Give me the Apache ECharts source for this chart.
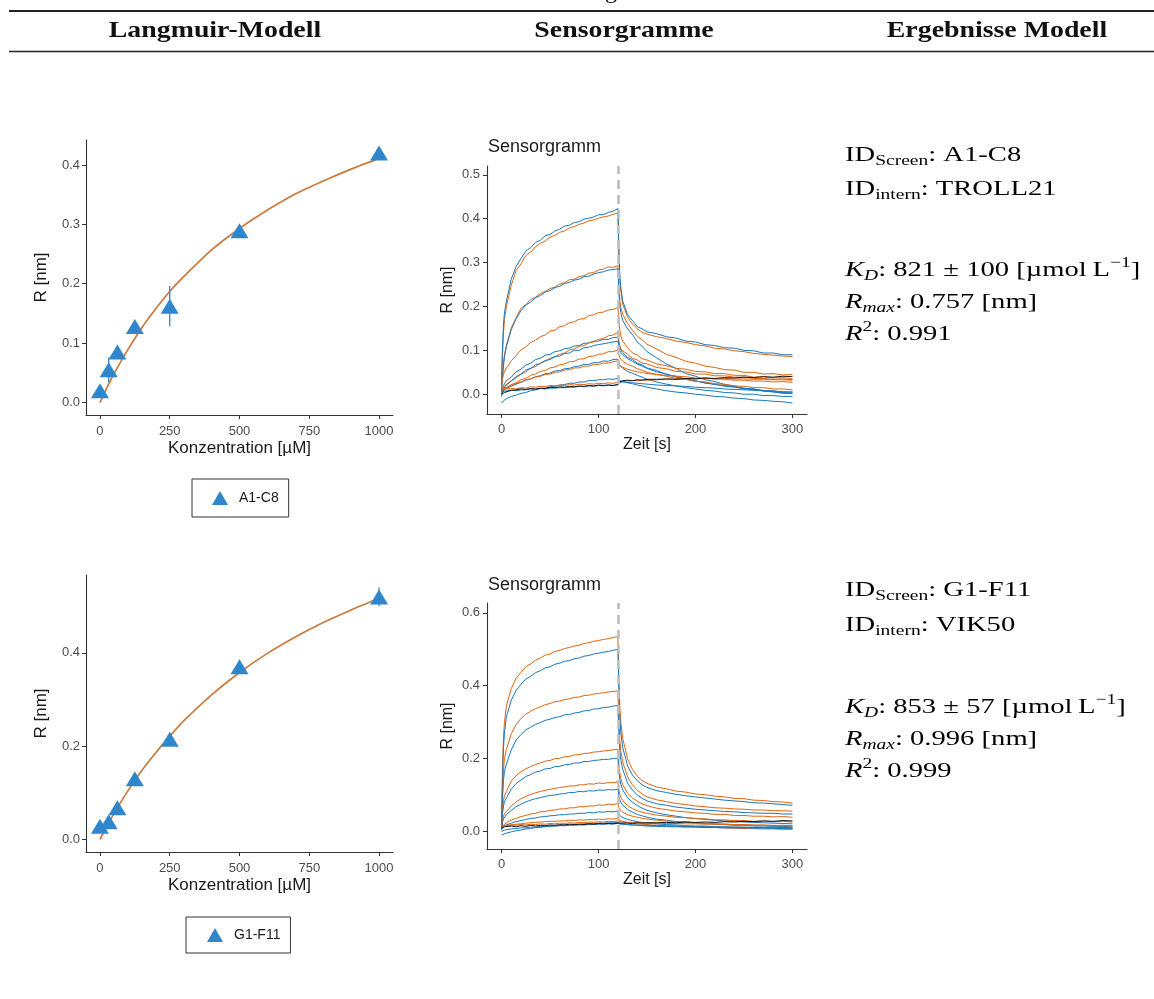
<!DOCTYPE html>
<html><head><meta charset="utf-8">
<script src="https://cdn.jsdelivr.net/npm/echarts@6/dist/echarts.min.js"></script>
<style>html,body{margin:0;padding:0;background:#fff}#c{width:1154px;height:999px}</style>
</head><body><div id="c"></div>
<script>
// ---------------- DATA ----------------
const concentrations = [0, 31.25, 62.5, 125, 250, 500, 1000];
const respA1C8 = [0.02, 0.055, 0.085, 0.128, 0.162, 0.289, 0.42];
const errA1C8  = [0.004, 0.021, 0.010, 0.006, 0.034, 0.005, 0.005];
const respG1F11 = [0.028, 0.038, 0.068, 0.13, 0.215, 0.37, 0.52];
const errG1F11  = [0.004, 0.006, 0.006, 0.006, 0.010, 0.010, 0.020];
const fitConc  = [0, 25, 50, 100, 150, 200, 250, 300, 400, 500, 600, 700, 800, 900, 1000];
const fitA1C8  = [0, 0.025, 0.048, 0.089, 0.126, 0.158, 0.187, 0.212, 0.257, 0.293, 0.324, 0.351, 0.373, 0.393, 0.411];
const fitG1F11 = [0, 0.028, 0.055, 0.104, 0.148, 0.186, 0.221, 0.254, 0.310, 0.358, 0.399, 0.434, 0.465, 0.492, 0.517];
const concTicks = [0, 250, 500, 750, 1000];
const langTicksTop = [0, 0.1, 0.2, 0.3, 0.4];
const langTicksBot = [0, 0.2, 0.4];
const timeTicks = [0, 100, 200, 300];
const sensTicksTop = [0, 0.1, 0.2, 0.3, 0.4, 0.5];
const sensTicksBot = [0, 0.2, 0.4, 0.6];
const dissociationStart = 120;

const sensTime = [0,1,2,3,5,10,15,20,25,30,35,40,45,50,55,60,65,70,75,80,85,90,95,100,105,110,115,120,121,122,123,125,130,135,140,145,150,160,170,180,190,200,210,220,230,240,250,260,270,280,290,300];

// top sensorgram (A1-C8)
const top_b1000 = [0.03,0.11,0.16,0.185, 0.212,0.262,0.291,0.309,0.326,0.334,0.346,0.351,0.361,0.364,0.372,0.376,0.383,0.385,0.391,0.393,0.399,0.401,0.404,0.409,0.409,0.414,0.417,0.423, 0.33,0.27,0.243, 0.212,0.181,0.168,0.154,0.149,0.142, 0.138,0.131,0.128,0.121,0.119,0.113,0.111,0.106,0.105,0.1,0.099,0.094,0.094,0.09,0.09];
const top_o1000 = [0.02,0.09,0.14,0.17, 0.2,0.248,0.282,0.297,0.316,0.324,0.336,0.344,0.349,0.358,0.362,0.369,0.372,0.379,0.382,0.387,0.39,0.395,0.397,0.401,0.404,0.406,0.41,0.413, 0.32,0.26,0.235, 0.205,0.176,0.16,0.149,0.141,0.137, 0.131,0.127,0.121,0.118,0.113,0.11,0.105,0.103,0.099,0.097,0.093,0.091,0.089,0.087,0.086];
const top_o500 = [0.01,0.045,0.07,0.09, 0.112,0.151,0.174,0.196,0.204,0.216,0.221,0.229,0.234,0.241,0.244,0.251,0.254,0.261,0.262,0.268,0.27,0.276,0.277,0.283,0.285,0.29,0.289,0.293, 0.245,0.215,0.198, 0.182,0.161,0.146,0.132,0.124,0.114, 0.103,0.091,0.084,0.075,0.071,0.064,0.061,0.056,0.055,0.05,0.05,0.046,0.047,0.044,0.045];
const top_b500 = [0.005,0.04,0.065,0.085, 0.108,0.147,0.172,0.19,0.203,0.21,0.22,0.225,0.233,0.236,0.243,0.246,0.252,0.255,0.26,0.262,0.268,0.269,0.274,0.277,0.279,0.283,0.284,0.286, 0.232,0.2,0.186, 0.168,0.149,0.136,0.119,0.109,0.097, 0.083,0.069,0.059,0.047,0.041,0.033,0.029,0.022,0.019,0.013,0.012,0.007,0.006,0.002,0.003];
const top_o250 = [0.02,0.035,0.045,0.052, 0.06,0.076,0.088,0.101,0.108,0.118,0.123,0.131,0.135,0.144,0.146,0.154,0.156,0.163,0.165,0.171,0.172,0.179,0.181,0.186,0.187,0.192,0.193,0.198, 0.165,0.145,0.133, 0.121,0.106,0.094,0.089,0.081,0.078, 0.069,0.065,0.059,0.057,0.052,0.051,0.047,0.047,0.043,0.043,0.039,0.04,0.037,0.038,0.035];
const top_b250 = [0.0,0.012,0.02,0.024, 0.031,0.039,0.051,0.057,0.066,0.071,0.079,0.082,0.089,0.091,0.097,0.099,0.104,0.105,0.11,0.111,0.116,0.117,0.121,0.121,0.125,0.125,0.129,0.13, 0.117,0.108,0.101, 0.095,0.084,0.079,0.071,0.067,0.06, 0.054,0.045,0.041,0.034,0.031,0.025,0.023,0.018,0.017,0.012,0.012,0.008,0.008,0.004,0.005];
const top_o125 = [0.005,0.012,0.016,0.019, 0.022,0.031,0.037,0.046,0.051,0.059,0.063,0.071,0.075,0.082,0.085,0.091,0.094,0.101,0.103,0.109,0.111,0.117,0.119,0.125,0.127,0.133,0.135,0.141, 0.121,0.111,0.104, 0.099,0.091,0.082,0.078,0.071,0.069, 0.061,0.058,0.052,0.051,0.046,0.046,0.042,0.042,0.039,0.039,0.036,0.036,0.034,0.035,0.033];
const top_b125 = [-0.005,0.005,0.012,0.016, 0.021,0.03,0.04,0.046,0.055,0.059,0.067,0.07,0.077,0.079,0.086,0.087,0.093,0.094,0.1,0.1,0.106,0.107,0.111,0.113,0.115,0.117,0.119,0.121, 0.108,0.1,0.095, 0.09,0.081,0.075,0.069,0.064,0.059, 0.051,0.046,0.039,0.035,0.03,0.027,0.022,0.02,0.016,0.014,0.01,0.009,0.005,0.004,0.001];
const top_o62 = [0.0,0.006,0.01,0.012, 0.015,0.022,0.026,0.033,0.036,0.043,0.046,0.052,0.054,0.06,0.062,0.067,0.069,0.074,0.075,0.08,0.081,0.086,0.087,0.091,0.092,0.097,0.097,0.101, 0.09,0.083,0.079, 0.075,0.068,0.064,0.058,0.055,0.05, 0.045,0.041,0.036,0.034,0.029,0.028,0.024,0.023,0.019,0.018,0.015,0.015,0.012,0.012,0.01];
const top_b62 = [0.0,0.004,0.008,0.01, 0.013,0.018,0.023,0.027,0.032,0.035,0.04,0.042,0.047,0.048,0.053,0.054,0.058,0.059,0.063,0.064,0.068,0.068,0.072,0.072,0.076,0.075,0.079,0.08, 0.072,0.066,0.062, 0.059,0.052,0.048,0.043,0.039,0.034, 0.028,0.023,0.019,0.015,0.012,0.009,0.007,0.004,0.003,0.0,0.0,-0.003,-0.003,-0.005,-0.005];
const top_o31 = [0.015,0.012,0.014,0.013, 0.016,0.02,0.025,0.028,0.033,0.035,0.039,0.041,0.045,0.046,0.05,0.051,0.055,0.056,0.06,0.06,0.064,0.064,0.068,0.068,0.071,0.071,0.074,0.076, 0.07,0.066,0.063, 0.061,0.057,0.054,0.051,0.05,0.047, 0.045,0.043,0.041,0.04,0.037,0.037,0.035,0.034,0.032,0.032,0.03,0.03,0.028,0.029,0.027];
const top_b31 = [-0.02,-0.017,-0.015,-0.013, -0.01,-0.005,-0.002,0.002,0.004,0.008,0.01,0.013,0.014,0.017,0.018,0.021,0.022,0.025,0.025,0.028,0.028,0.031,0.031,0.033,0.033,0.035,0.034,0.036, 0.033,0.031,0.03, 0.029,0.026,0.024,0.021,0.019,0.016, 0.012,0.008,0.005,0.003,0.0,-0.002,-0.005,-0.006,-0.009,-0.01,-0.013,-0.014,-0.016,-0.017,-0.02];
const top_o0 = [0.01,0.011,0.01,0.012, 0.011,0.013,0.012,0.015,0.014,0.017,0.016,0.018,0.017,0.02,0.019,0.021,0.02,0.022,0.021,0.023,0.022,0.024,0.023,0.025,0.024,0.026,0.025,0.027, 0.028,0.028,0.029, 0.029,0.03,0.031,0.031,0.032,0.032, 0.033,0.034,0.034,0.035,0.035,0.036,0.035,0.036,0.035,0.035,0.034,0.034,0.033,0.033,0.032];
const top_b0 = [0.005,0.006,0.005,0.007, 0.007,0.009,0.008,0.01,0.01,0.012,0.011,0.013,0.012,0.014,0.014,0.015,0.015,0.016,0.016,0.018,0.017,0.019,0.018,0.02,0.019,0.021,0.02,0.022, 0.025,0.027,0.028, 0.028,0.027,0.026,0.025,0.024,0.023, 0.021,0.02,0.019,0.018,0.016,0.015,0.014,0.012,0.011,0.01,0.009,0.008,0.007,0.006,0.005];
const top_ref = [0.0,0.002,0.003,0.004, 0.006,0.009,0.01,0.012,0.011,0.013,0.012,0.014,0.013,0.016,0.015,0.017,0.016,0.018,0.017,0.019,0.018,0.02,0.019,0.021,0.02,0.021,0.02,0.022, 0.027,0.03,0.031, 0.031,0.032,0.031,0.033,0.032,0.034, 0.034,0.035,0.034,0.036,0.035,0.037,0.036,0.038,0.037,0.039,0.038,0.04,0.039,0.041,0.04];

// bottom sensorgram (G1-F11)
const bot_o1000 = [0.02,0.18,0.26,0.3, 0.345,0.392,0.42,0.437,0.452,0.46,0.47,0.476,0.484,0.487,0.494,0.497,0.502,0.505,0.509,0.511,0.516,0.518,0.522,0.524,0.527,0.529,0.532,0.535, 0.42,0.34,0.3, 0.255,0.2,0.17,0.152,0.14,0.132, 0.122,0.117,0.111,0.108,0.103,0.101,0.097,0.095,0.091,0.09,0.086,0.085,0.082,0.081,0.078];
const bot_b1000 = [0.01,0.15,0.23,0.27, 0.315,0.36,0.387,0.404,0.418,0.426,0.436,0.441,0.449,0.452,0.459,0.462,0.467,0.469,0.474,0.476,0.481,0.483,0.487,0.489,0.492,0.494,0.497,0.5, 0.39,0.31,0.27, 0.23,0.18,0.155,0.139,0.128,0.121, 0.112,0.107,0.102,0.098,0.095,0.092,0.089,0.086,0.084,0.082,0.079,0.078,0.076,0.074,0.072];
const bot_o500 = [0.01,0.11,0.17,0.2, 0.225,0.268,0.293,0.31,0.322,0.33,0.337,0.342,0.348,0.351,0.356,0.358,0.362,0.364,0.368,0.369,0.373,0.374,0.377,0.379,0.381,0.383,0.384,0.386, 0.3,0.25,0.22, 0.19,0.15,0.128,0.113,0.103,0.095, 0.087,0.082,0.077,0.074,0.07,0.068,0.065,0.064,0.062,0.061,0.059,0.059,0.057,0.057,0.056];
const bot_b500 = [0.005,0.09,0.14,0.165, 0.185,0.224,0.251,0.266,0.279,0.286,0.294,0.299,0.305,0.308,0.313,0.315,0.32,0.321,0.325,0.327,0.331,0.332,0.336,0.337,0.34,0.341,0.344,0.346, 0.27,0.22,0.195, 0.17,0.133,0.114,0.1,0.091,0.084, 0.076,0.072,0.067,0.064,0.061,0.059,0.057,0.055,0.054,0.052,0.051,0.05,0.05,0.048,0.048];
const bot_o250 = [0.01,0.06,0.085,0.098, 0.11,0.138,0.153,0.164,0.172,0.178,0.184,0.188,0.193,0.195,0.2,0.201,0.205,0.206,0.21,0.211,0.214,0.215,0.218,0.219,0.221,0.222,0.224,0.226, 0.185,0.16,0.145, 0.128,0.105,0.092,0.083,0.076,0.071, 0.064,0.06,0.056,0.054,0.051,0.05,0.047,0.047,0.044,0.044,0.042,0.042,0.04,0.041,0.039];
const bot_b250 = [0.005,0.05,0.07,0.082, 0.092,0.116,0.132,0.141,0.151,0.156,0.163,0.166,0.172,0.173,0.178,0.179,0.183,0.184,0.188,0.188,0.192,0.192,0.195,0.196,0.198,0.198,0.2,0.201, 0.165,0.143,0.13, 0.114,0.093,0.08,0.071,0.064,0.058, 0.051,0.046,0.042,0.038,0.036,0.033,0.031,0.029,0.028,0.026,0.025,0.024,0.023,0.022,0.021];
const bot_o125 = [0.01,0.03,0.042,0.048, 0.054,0.07,0.081,0.09,0.096,0.102,0.106,0.11,0.113,0.116,0.118,0.121,0.122,0.125,0.125,0.128,0.128,0.131,0.13,0.133,0.132,0.134,0.134,0.136, 0.115,0.101,0.094, 0.085,0.071,0.063,0.057,0.053,0.05, 0.045,0.042,0.039,0.038,0.035,0.035,0.032,0.032,0.03,0.03,0.028,0.029,0.027,0.028,0.026];
const bot_b125 = [0.005,0.025,0.035,0.04, 0.046,0.058,0.068,0.075,0.081,0.086,0.09,0.093,0.096,0.099,0.1,0.103,0.104,0.107,0.107,0.11,0.109,0.112,0.111,0.114,0.113,0.115,0.114,0.116, 0.098,0.087,0.08, 0.073,0.06,0.053,0.047,0.043,0.039, 0.034,0.031,0.027,0.026,0.023,0.022,0.02,0.019,0.017,0.017,0.015,0.015,0.014,0.014,0.013];
const bot_o62 = [0.01,0.015,0.018,0.02, 0.024,0.031,0.036,0.041,0.044,0.048,0.05,0.054,0.055,0.058,0.059,0.062,0.062,0.065,0.065,0.068,0.068,0.07,0.07,0.073,0.072,0.075,0.074,0.077, 0.066,0.06,0.057, 0.053,0.046,0.042,0.039,0.036,0.034, 0.031,0.029,0.027,0.026,0.024,0.023,0.021,0.021,0.019,0.019,0.017,0.018,0.016,0.017,0.015];
const bot_b62 = [0.005,0.01,0.013,0.015, 0.018,0.023,0.027,0.03,0.033,0.036,0.037,0.04,0.041,0.043,0.044,0.046,0.046,0.048,0.048,0.05,0.05,0.052,0.051,0.054,0.053,0.055,0.054,0.056, 0.048,0.044,0.041, 0.038,0.033,0.03,0.027,0.025,0.023, 0.021,0.019,0.018,0.016,0.015,0.015,0.013,0.013,0.012,0.012,0.011,0.011,0.01,0.011,0.01];
const bot_o31 = [0.012,0.013,0.014,0.014, 0.016,0.018,0.02,0.021,0.023,0.024,0.025,0.026,0.027,0.028,0.028,0.029,0.029,0.031,0.03,0.032,0.031,0.033,0.032,0.034,0.033,0.035,0.034,0.036, 0.032,0.03,0.029, 0.028,0.025,0.023,0.021,0.02,0.019, 0.017,0.016,0.015,0.014,0.013,0.012,0.011,0.01,0.009,0.008,0.008,0.007,0.007,0.006,0.006];
const bot_b31 = [-0.01,-0.008,-0.007,-0.006, -0.004,-0.001,0.002,0.004,0.007,0.008,0.011,0.011,0.014,0.014,0.016,0.016,0.018,0.018,0.02,0.02,0.021,0.022,0.022,0.023,0.023,0.024,0.024,0.025, 0.024,0.023,0.022, 0.021,0.019,0.018,0.017,0.016,0.015, 0.014,0.013,0.013,0.012,0.012,0.011,0.011,0.01,0.01,0.01,0.009,0.009,0.009,0.008,0.008];
const bot_o0 = [0.015,0.016,0.015,0.017, 0.016,0.018,0.017,0.019,0.018,0.02,0.019,0.021,0.02,0.022,0.021,0.023,0.022,0.024,0.023,0.025,0.024,0.026,0.025,0.027,0.026,0.028,0.027,0.029, 0.028,0.027,0.027, 0.026,0.025,0.025,0.024,0.024,0.023, 0.023,0.022,0.022,0.021,0.021,0.02,0.02,0.019,0.019,0.018,0.018,0.017,0.017,0.016,0.016];
const bot_b0 = [0.0,0.002,0.003,0.004, 0.005,0.007,0.008,0.01,0.01,0.012,0.012,0.014,0.013,0.015,0.015,0.016,0.016,0.017,0.017,0.018,0.018,0.019,0.019,0.02,0.02,0.021,0.021,0.022, 0.021,0.021,0.02, 0.02,0.019,0.018,0.018,0.017,0.017, 0.016,0.015,0.015,0.014,0.014,0.013,0.013,0.012,0.012,0.011,0.011,0.011,0.01,0.01,0.01];
const bot_ref = [0.01,0.012,0.011,0.013, 0.012,0.015,0.013,0.016,0.014,0.017,0.015,0.017,0.016,0.018,0.017,0.019,0.018,0.02,0.019,0.02,0.019,0.021,0.02,0.022,0.021,0.022,0.021,0.023, 0.023,0.022,0.023, 0.022,0.023,0.022,0.024,0.023,0.024, 0.024,0.025,0.024,0.026,0.025,0.026,0.025,0.027,0.026,0.028,0.027,0.029,0.028,0.03,0.029];

// ---------------- STYLE ----------------
const BLUE = '#1878BE', ORANGE = '#E0650F', BLACK = '#151515';
const TRI = '#2F86CC', FIT = '#C97A3C';
const SANS = 'Liberation Sans, Arial, sans-serif';
const SERIF = 'Liberation Serif, Times New Roman, serif';

const topTraces = [[top_o1000,ORANGE],[top_b1000,BLUE],[top_o500,ORANGE],[top_b500,BLUE],[top_o250,ORANGE],[top_b250,BLUE],[top_o125,ORANGE],[top_b125,BLUE],[top_o62,ORANGE],[top_b62,BLUE],[top_o31,ORANGE],[top_b31,BLUE],[top_o0,ORANGE],[top_b0,BLUE],[top_ref,BLACK]];
const botTraces = [[bot_o1000,ORANGE],[bot_b1000,BLUE],[bot_o500,ORANGE],[bot_b500,BLUE],[bot_o250,ORANGE],[bot_b250,BLUE],[bot_o125,ORANGE],[bot_b125,BLUE],[bot_o62,ORANGE],[bot_b62,BLUE],[bot_o31,ORANGE],[bot_b31,BLUE],[bot_o0,ORANGE],[bot_b0,BLUE],[bot_ref,BLACK]];

const grids = [
  {left: 86, top: 140, width: 307, height: 275},
  {left: 86, top: 575, width: 307, height: 277},
  {left: 487, top: 166, width: 320, height: 248},
  {left: 487, top: 603, width: 320, height: 246}
].map(g => Object.assign({containLabel: false, outerBoundsMode: 'none'}, g));

function axisBase(gi, min, max, ticks, fmt, name, nameGap, nameSize, margin) {
  return {
    type: 'value', gridIndex: gi, min, max, scale: false,
    axisLine: {show: true, onZero: false, lineStyle: {color: '#333', width: 1.1}},
    axisTick: {show: true, length: 4, customValues: ticks, lineStyle: {color: '#333', width: 1}},
    axisLabel: {customValues: ticks, formatter: fmt, color: '#4D4D4D', fontSize: 13, fontFamily: SANS, margin},
    splitLine: {show: false},
    name, nameLocation: 'middle', nameGap,
    nameTextStyle: {fontSize: nameSize, color: '#1A1A1A', fontFamily: SANS}
  };
}
const f0 = v => String(Math.round(v));
const f1 = v => v.toFixed(1);

const xAxes = [
  axisBase(0, -50, 1050, concTicks, f0, 'Konzentration [µM]', 25, 17, 10),
  axisBase(1, -50, 1050, concTicks, f0, 'Konzentration [µM]', 25, 17, 10),
  axisBase(2, -15, 315, timeTicks, f0, 'Zeit [s]', 23, 16, 9),
  axisBase(3, -15, 315, timeTicks, f0, 'Zeit [s]', 23, 16, 9)
];
const yAxes = [
  axisBase(0, -0.021, 0.442, langTicksTop, f1, 'R [nm]', 36, 17, 6),
  axisBase(1, -0.027, 0.567, langTicksBot, f1, 'R [nm]', 36, 17, 6),
  axisBase(2, -0.045, 0.52, sensTicksTop, f1, 'R [nm]', 31, 16, 7),
  axisBase(3, -0.048, 0.627, sensTicksBot, f1, 'R [nm]', 31, 16, 7)
];

const series = [];
function langmuir(gi, name, vals, errs, fit) {
  series.push({type: 'line', name: name + ' Fit', xAxisIndex: gi, yAxisIndex: gi,
    data: fitConc.map((c, i) => [c, fit[i]]), showSymbol: false, smooth: 0.25,
    lineStyle: {color: FIT, width: 1.7}, z: 2, silent: true});
  series.push({type: 'scatter', name, xAxisIndex: gi, yAxisIndex: gi,
    data: concentrations.map((c, i) => [c, vals[i]]), symbol: 'triangle', symbolSize: [18, 15],
    itemStyle: {color: TRI, opacity: 1}, z: 3, silent: true});
  series.push({type: 'custom', name: name + ' SD', xAxisIndex: gi, yAxisIndex: gi, z: 4, silent: true,
    data: concentrations.map((c, i) => [c, vals[i] - errs[i], vals[i] + errs[i]]),
    encode: {x: 0, y: [1, 2]},
    renderItem: (params, api) => {
      const lo = api.coord([api.value(0), api.value(1)]);
      const hi = api.coord([api.value(0), api.value(2)]);
      return {type: 'line', shape: {x1: lo[0], y1: lo[1], x2: hi[0], y2: hi[1]}, style: {stroke: TRI, lineWidth: 1.3}};
    }});
}
function sensor(gi, traces) {
  traces.forEach(([vals, col], k) => series.push({type: 'line', name: 'trace' + gi + '_' + k, xAxisIndex: gi, yAxisIndex: gi,
    data: sensTime.map((t, i) => [t, vals[i]]), showSymbol: false, silent: true,
    lineStyle: {color: col, width: 1}, z: 2}));
  series.push({type: 'line', name: 'dissoc' + gi, xAxisIndex: gi, yAxisIndex: gi, data: [], z: 5,
    markLine: {silent: true, symbol: ['none', 'none'], label: {show: false},
      lineStyle: {color: '#BEBEBE', width: 2.6, type: [9, 6]},
      data: [{xAxis: dissociationStart}]}});
}
langmuir(0, 'A1-C8', respA1C8, errA1C8, fitA1C8);
langmuir(1, 'G1-F11', respG1F11, errG1F11, fitG1F11);
sensor(2, topTraces);
sensor(3, botTraces);

const legendBase = {
  orient: 'horizontal', borderColor: '#333', borderWidth: 1, itemWidth: 16, itemHeight: 14,
  selectedMode: false, textStyle: {fontSize: 14, color: '#1A1A1A', fontFamily: SANS, padding: [0, 0, 0, 6]}
};
const legends = [
  Object.assign({}, legendBase, {left: 192, top: 479, padding: [12, 10, 12, 20], data: [{name: 'A1-C8', icon: 'triangle'}]}),
  Object.assign({}, legendBase, {left: 186, top: 917, padding: [11, 10, 11, 21], data: [{name: 'G1-F11', icon: 'triangle'}]})
];

// ---------------- TEXT PANELS ----------------
const rich = {
  m: {fontFamily: SERIF, fontSize: 22, color: '#111', lineHeight: 28},
  mi: {fontFamily: SERIF, fontSize: 22, color: '#111', lineHeight: 28, fontStyle: 'italic'},
  s: {fontFamily: SERIF, fontSize: 15, color: '#111', lineHeight: 12, verticalAlign: 'bottom'},
  si: {fontFamily: SERIF, fontSize: 15, color: '#111', lineHeight: 12, verticalAlign: 'bottom', fontStyle: 'italic'},
  sup: {fontFamily: SERIF, fontSize: 15, color: '#111', lineHeight: 16, verticalAlign: 'top'}
};
const idScreen = ['A1-C8', 'G1-F11'];
const idIntern = ['TROLL21', 'VIK50'];
const kdText = ['821 ± 100', '853 ± 57'];
const rmaxText = ['0.757', '0.996'];
const r2Text = ['0.991', '0.999'];
const panelLineY = [[155, 189, 270, 302, 334], [590, 625, 707, 739, 771]];

function rt(x, y, text) {
  return {type: 'text', x, y, scaleX: 1.3, silent: true,
    style: {text, rich, align: 'left', verticalAlign: 'middle'}};
}
const graphics = [];
[0, 1].forEach(k => {
  const ys = panelLineY[k];
  graphics.push(rt(845, ys[0], '{m|ID}{s|Screen}{m|: ' + idScreen[k] + '}'));
  graphics.push(rt(845, ys[1], '{m|ID}{s|intern}{m|: ' + idIntern[k] + '}'));
  graphics.push(rt(845, ys[2], '{mi|K}{si|D}{m|: ' + kdText[k] + ' [µmol\u2009L}{sup|\u22121}{m|]}'));
  graphics.push(rt(845, ys[3], '{mi|R}{si|max}{m|: ' + rmaxText[k] + ' [nm]}'));
  graphics.push(rt(845, ys[4], '{mi|R}{sup|2}{m|: ' + r2Text[k] + '}'));
});
// table header
const headers = [['Langmuir-Modell', 215], ['Sensorgramme', 624], ['Ergebnisse Modell', 997]];
headers.forEach(([t, x]) => graphics.push({type: 'text', x, y: 31, scaleX: 1.16, silent: true,
  style: {text: t, fontFamily: SERIF, fontWeight: 'bold', fontSize: 24, fill: '#111', align: 'center', verticalAlign: 'middle'}}));
graphics.push({type: 'line', silent: true, shape: {x1: 9, y1: 11, x2: 1154, y2: 11}, style: {stroke: '#222', lineWidth: 2}});
graphics.push({type: 'line', silent: true, shape: {x1: 9, y1: 51.5, x2: 1154, y2: 51.5}, style: {stroke: '#222', lineWidth: 1.5}});
graphics.push({type: 'text', x: 611, y: -8, silent: true,
  style: {text: 'g', fontFamily: SERIF, fontSize: 24, fill: '#111', align: 'center', verticalAlign: 'middle'}});
// sensorgram titles
const sensTitleY = [147, 585];
sensTitleY.forEach(y => graphics.push({type: 'text', x: 488, y, silent: true,
  style: {text: 'Sensorgramm', fontFamily: SANS, fontSize: 18, fill: '#1A1A1A', align: 'left', verticalAlign: 'middle'}}));

const chart = echarts.init(document.getElementById('c'), null, {renderer: 'canvas'});
chart.setOption({
  animation: false,
  backgroundColor: '#fff',
  grid: grids,
  xAxis: xAxes,
  yAxis: yAxes,
  legend: legends,
  series,
  graphic: graphics
});
</script></body></html>
